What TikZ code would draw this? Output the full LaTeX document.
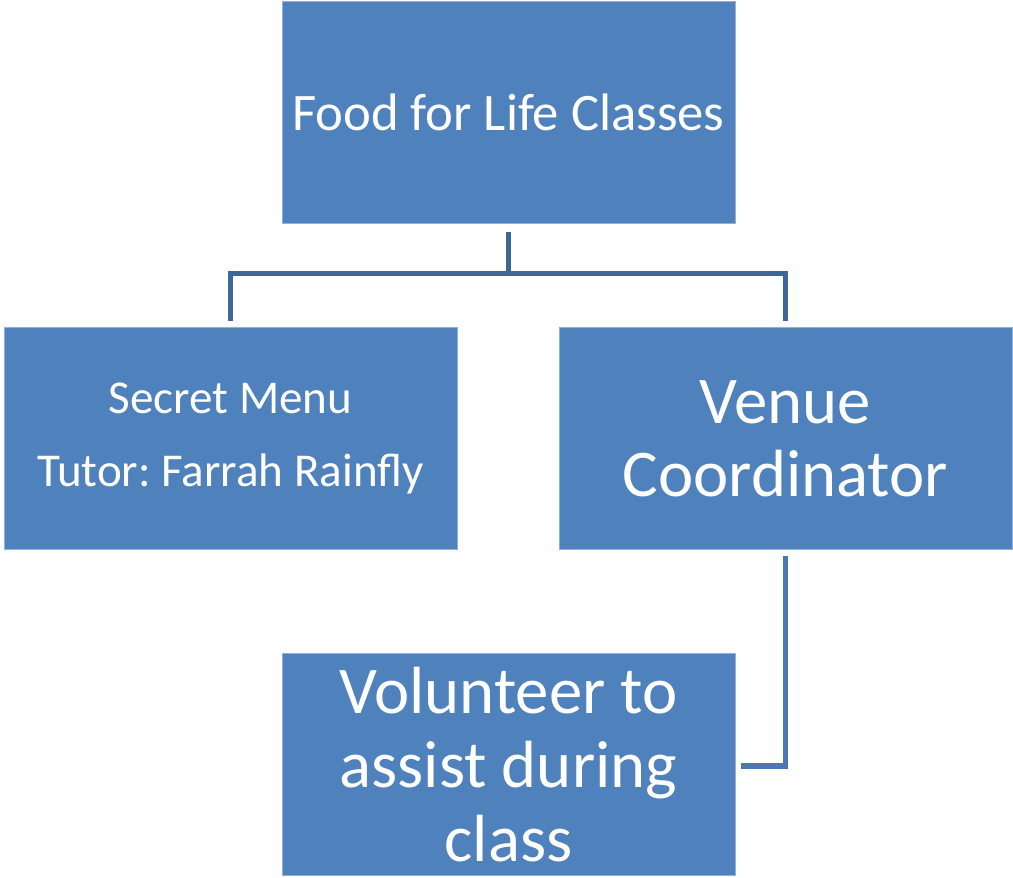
\documentclass[tikz,border=0pt]{standalone}
\usepackage{fontspec}
\setmainfont{Carlito}
\frenchspacing

\definecolor{boxblue}{HTML}{4F81BD}
\definecolor{boxedge}{HTML}{8FB1DA}
\definecolor{linktop}{HTML}{3E6699}
\definecolor{linklow}{HTML}{4978B4}

\begin{document}
\begin{tikzpicture}[
						orgbox/.style={rectangle, fill=boxblue, draw=boxedge, line width=0.4pt,
							minimum width=9.06cm, minimum height=4.44cm, text=white,
							align=center, inner sep=0pt},
						link/.style={line width=3.2pt},
						]
	
		\useasboundingbox (0, 0) rectangle (20.26, -17.56);
		
		% Boxes
		\node[orgbox, font=\fontsize{30}{34}\selectfont] (classes) at (10.17, -2.25)
			{Food for Life Classes};
		\node[orgbox, font=\fontsize{26.8}{41.5}\selectfont] (menu) at (4.61, -8.77)
			{Secret Menu\\Tutor: Farrah Rainfly};
		\node[orgbox, font=\fontsize{38}{41.5}\selectfont] (venue) at (15.71, -8.77)
			{Venue\\Coordinator};
		\node[orgbox, font=\fontsize{38}{42}\selectfont] (volunteer) at (10.17, -15.29)
			{Volunteer to\\assist during\\class};
		
		% Branch points
		\coordinate (split) at (10.17, -5.47);
		\coordinate (turn) at (15.71, -15.32);
		
		% Connectors from the top box
		\draw[link, linktop] ([yshift=-0.16cm]classes.south) -- (split);
		\draw[link, linktop] (split) -| ([yshift=0.12cm]menu.north);
		\draw[link, linktop] (split) -| ([yshift=0.12cm]venue.north);
		
		% Connector to the volunteer
		\draw[link, linklow] ([yshift=-0.12cm]venue.south) -- (turn)
			-- ([xshift=0.12cm]volunteer.east |- turn);
		
	\end{tikzpicture}
\end{document}
